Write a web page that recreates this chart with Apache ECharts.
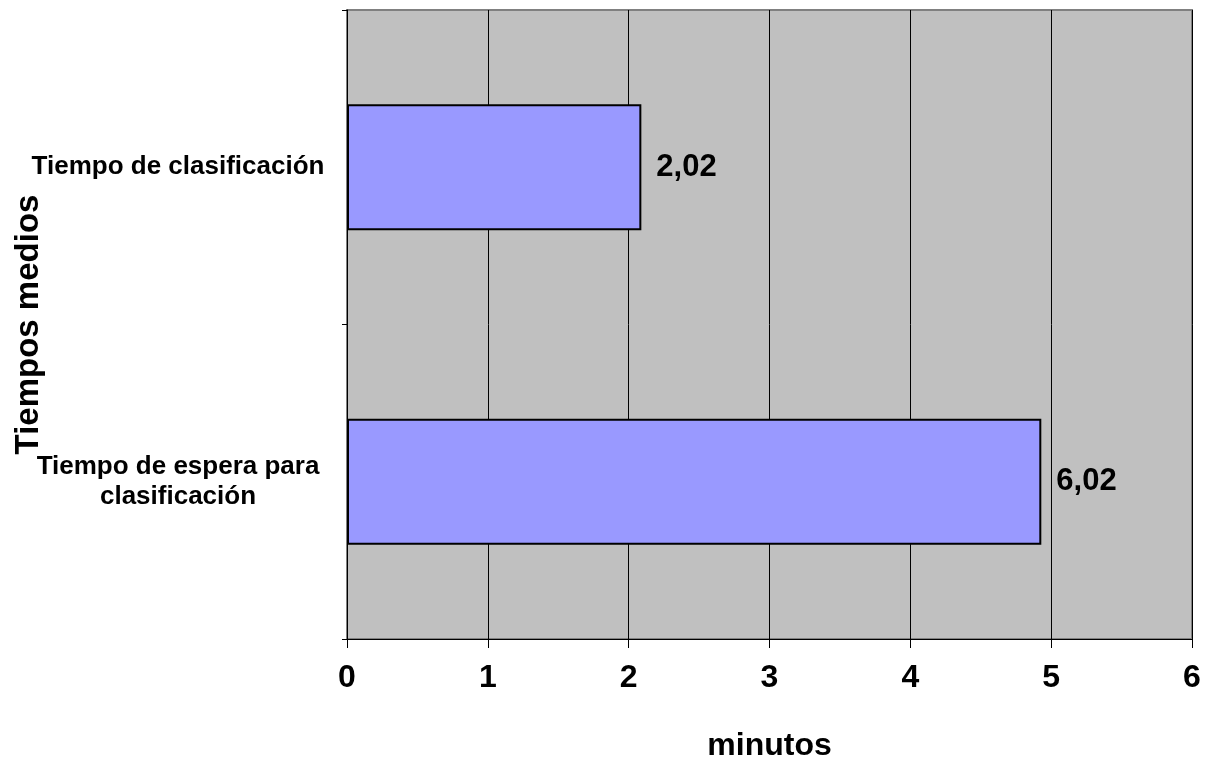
<!DOCTYPE html>
<html>
<head>
<meta charset="utf-8">
<script src="https://cdn.jsdelivr.net/npm/echarts@6/dist/echarts.min.js"></script>
<style>
html,body{margin:0;padding:0;background:#fff;}
#chart{width:1213px;height:760px;}
</style>
</head>
<body>
<div id="chart"></div>
<script>
var categories = ["Tiempo de clasificación", "Tiempo de espera para\nclasificación"];
var values = [2.09, 4.93];
var valueLabels = ["2,02", "6,02"];
var xTicks = [0, 1, 2, 3, 4, 5, 6];

var FONT = '"Liberation Sans", Arial, sans-serif';
var chart = echarts.init(document.getElementById('chart'), null, {renderer: 'canvas'});
chart.setOption({
  animation: false,
  backgroundColor: '#ffffff',
  grid: {
    left: 347, right: 21, top: 10, bottom: 121,
    containLabel: false, outerBoundsMode: 'none',
    show: true, backgroundColor: '#C0C0C0', borderColor: '#808080', borderWidth: 2
  },
  xAxis: {
    type: 'value',
    min: xTicks[0], max: xTicks[xTicks.length - 1], interval: 1,
    name: 'minutos', nameLocation: 'middle', nameGap: 91, nameMoveOverlap: false,
    nameTextStyle: {fontFamily: FONT, fontWeight: 'bold', fontSize: 32, color: '#000'},
    axisLine: {show: true, lineStyle: {color: '#000', width: 1}},
    axisTick: {show: true, inside: false, length: 9, lineStyle: {color: '#000'}},
    axisLabel: {fontFamily: FONT, fontWeight: 'bold', fontSize: 32, color: '#000', margin: 23},
    splitLine: {show: true, lineStyle: {color: '#000', width: 1}}
  },
  yAxis: {
    type: 'category',
    data: categories,
    inverse: true,
    name: 'Tiempos medios', nameLocation: 'middle', nameRotate: 90, nameGap: 302, nameMoveOverlap: false,
    nameTextStyle: {fontFamily: FONT, fontWeight: 'bold', fontSize: 33, color: '#000'},
    axisLine: {show: true, lineStyle: {color: '#000', width: 1}},
    axisTick: {show: true, inside: false, length: 5, lineStyle: {color: '#000'}},
    axisLabel: {fontFamily: FONT, fontWeight: 'bold', fontSize: 26, color: '#000', margin: 169, align: 'center', lineHeight: 30},
    splitLine: {show: false}
  },
  series: [{
    type: 'bar',
    data: values,
    barWidth: '40%',
    itemStyle: {color: '#9999FF', borderColor: '#000', borderWidth: 2},
    label: {
      show: true, position: 'right', distance: 15,
      fontFamily: FONT, fontWeight: 'bold', fontSize: 31, color: '#000',
      formatter: function (p) { return valueLabels[p.dataIndex]; }
    }
  }]
});
</script>
</body>
</html>
